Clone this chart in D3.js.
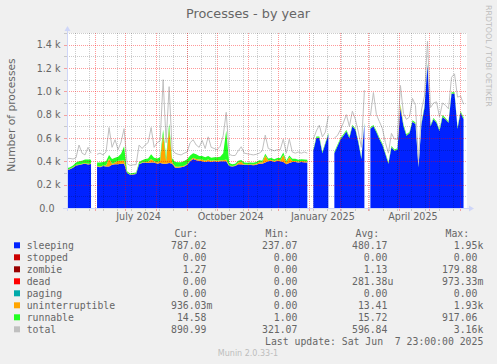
<!DOCTYPE html>
<html>
<head>
<meta charset="utf-8">
<script src="https://cdn.jsdelivr.net/npm/d3@7"></script>
<style>
body { margin: 0; background: #f0f0f0; }
svg { display: block; font-family: "DejaVu Sans", sans-serif; }
.mono { font-family: "DejaVu Sans Mono", monospace; font-size: 9.8px; fill: #666; }
</style>
</head>
<body>
<svg id="chart"></svg>
<script>
// Values: one sample every 3 days from 4 May 2024, null = no data
let startDate = new Date(2024, 4, 4, 12)
let endDate = new Date(2025, 5, 7, 23)
let stepDays = 3

let sleeping = [
	326,332,345,365,368,375,380,372,378,null,
	355,350,360,355,355,370,375,375,380,380,
	300,285,288,292,375,385,390,385,390,390,
	380,385,380,380,385,380,345,345,350,355,
	370,400,420,410,405,400,395,400,395,400,
	395,400,400,400,360,355,360,375,370,370,
	368,370,365,370,380,380,390,400,405,395,
	405,400,395,375,385,395,395,390,395,390,
	390,null,490,600,600,470,550,630,null,470,
	527,585,620,656,600,700,670,560,420,720,
	null,680,700,650,590,540,460,380,520,490,
	500,860,700,620,640,740,720,350,720,860,
	1230,700,760,730,660,780,760,730,980,980,
	680,820,760
]

let zombie = [
	0,0,0,0,0,0,0,0,0,null,
	0,0,0,0,0,0,0,0,0,0,
	0,0,0,0,0,0,0,0,0,0,
	0,0,0,0,0,0,0,0,0,0,
	0,0,0,0,0,0,0,0,0,0,
	0,0,0,0,0,0,0,0,6,0,
	0,0,3,0,0,0,0,0,0,0,
	0,0,0,0,0,0,0,0,0,3,
	0,null,0,0,0,0,0,0,null,0,
	0,0,0,0,0,0,0,0,0,0,
	null,0,0,0,0,0,0,0,0,0,
	0,0,0,0,0,0,0,0,0,0,
	0,0,0,0,0,0,0,0,0,0,
	0,0,0
]

let uninterruptible = [
	5,5,5,5,5,5,5,8,5,null,
	5,5,5,10,70,10,15,30,25,30,
	5,3,3,3,5,5,5,10,30,10,
	10,20,250,20,300,15,10,8,8,8,
	8,10,10,10,10,15,10,15,10,10,
	10,10,10,15,5,5,5,15,20,5,
	5,5,5,10,15,10,60,10,8,8,
	8,8,60,15,50,8,8,8,8,8,
	8,null,2,2,2,2,2,2,null,2,
	2,2,2,2,2,2,2,2,2,2,
	null,2,2,2,2,2,2,2,2,2,
	2,20,2,2,2,2,2,2,2,2,
	2,2,2,2,2,2,2,2,2,2,
	2,2,2
]

let runnable = [
	10,12,15,20,28,25,30,35,30,null,
	30,35,30,35,30,40,40,35,60,120,
	10,8,8,10,15,20,25,30,40,30,
	35,30,40,35,40,30,40,40,35,40,
	40,40,40,40,30,30,30,30,25,25,
	30,30,60,250,20,15,15,15,15,15,
	15,15,15,15,15,15,15,15,15,15,
	15,20,20,15,15,20,20,15,15,15,
	15,null,10,10,10,10,10,10,null,10,
	10,10,10,10,10,10,10,10,10,10,
	null,10,10,10,10,10,10,10,10,10,
	10,10,15,10,10,10,10,5,10,10,
	10,10,10,10,10,15,10,10,10,10,
	10,10,15
]

let total = [
	425,425,420,430,540,470,455,520,470,null,
	460,470,455,480,690,520,585,500,565,680,
	380,365,370,372,540,510,540,560,690,520,
	560,575,1100,560,1040,500,470,460,455,470,
	480,560,585,540,520,580,510,610,520,510,
	500,530,620,820,460,450,450,490,525,470,
	465,460,455,460,470,490,625,510,500,490,
	500,500,590,470,590,480,470,480,470,480,
	470,null,590,660,710,610,650,790,null,600,
	620,670,730,800,700,830,760,650,520,1010,
	null,790,990,800,740,680,560,470,640,590,
	590,1050,810,760,780,940,880,400,840,960,
	1430,860,900,910,780,900,880,850,1120,1150,
	950,960,890
]

let yTicks = [0, 200, 400, 600, 800, 1000, 1200, 1400]
let yTickLabels = ["0.0", "0.2 k", "0.4 k", "0.6 k", "0.8 k", "1.0 k", "1.2 k", "1.4 k"]
let xLabels = ["July 2024", "October 2024", "January 2025", "April 2025"]
let xLabelDates = [new Date(2024, 6, 15), new Date(2024, 9, 15), new Date(2025, 0, 15), new Date(2025, 3, 15)]

let legendNames = ["sleeping", "stopped", "zombie", "dead", "paging", "uninterruptible", "runnable", "total"]
let curValues = ["787.02", "0.00", "1.27", "0.00", "0.00", "936.03m", "14.58", "890.99"]
let minValues = ["237.07", "0.00", "0.00", "0.00", "0.00", "0.00", "1.00", "321.07"]
let avgValues = ["480.17", "0.00", "1.13", "281.38u", "0.00", "13.41", "15.72", "596.84"]
let maxValues = ["1.95k", "0.00", "179.88", "973.33m", "0.00", "1.93k", "917.06", "3.16k"]

// styles
let colors = {
	sleeping: "#0022ff", stopped: "#cc0000", zombie: "#990000", dead: "#ff0000",
	paging: "#00aaaa", uninterruptible: "#ffa500", runnable: "#22ff22", total: "#c0c0c0"
}
let width = 497
let height = 364
let plot = { left: 67, right: 467, top: 33, bottom: 208 }
let fontColor = "#666"
let axisColor = "#cfd6f8"

let svg = d3.select("#chart").attr("width", width).attr("height", height)

svg.append("rect").attr("width", width).attr("height", height).attr("fill", "#f0f0f0")
svg.append("rect")
	.attr("x", plot.left).attr("y", plot.top)
	.attr("width", plot.right - plot.left).attr("height", plot.bottom - plot.top)
	.attr("fill", "#fff")

//Scales
let xScale = d3.scaleTime().domain([startDate, endDate]).range([plot.left, plot.right])
let yScale = d3.scaleLinear().domain([0, 1500]).range([plot.bottom, plot.top])

let rows = sleeping.map((s, i) => ({
	date: d3.timeDay.offset(startDate, stepDays * i),
	sleeping: s,
	zombie: zombie[i],
	uninterruptible: uninterruptible[i],
	runnable: runnable[i],
	total: total[i]
}))

let keys = ["sleeping", "zombie", "uninterruptible", "runnable"]
let layers = d3.stack().keys(keys).value((d, k) => d[k] == null ? 0 : d[k])(rows)

let area = d3.area()
	.defined(d => d.data.sleeping != null)
	.x(d => xScale(d.data.date))
	.y0(d => yScale(d[0]))
	.y1(d => yScale(d[1]))

svg.append("clipPath").attr("id", "clip")
	.append("rect")
	.attr("x", plot.left).attr("y", plot.top)
	.attr("width", plot.right - plot.left).attr("height", plot.bottom - plot.top)

let g = svg.append("g").attr("clip-path", "url(#clip)")

g.selectAll("path.layer")
	.data(layers)
	.enter()
	.append("path")
	.attr("class", "layer")
	.attr("fill", d => colors[d.key])
	.attr("d", area)

let totalLine = d3.line()
	.defined(d => d.total != null)
	.x(d => xScale(d.date))
	.y(d => yScale(d.total))

g.append("path")
	.datum(rows)
	.attr("fill", "none")
	.attr("stroke", colors.total)
	.attr("stroke-width", 1)
	.attr("d", totalLine)

//Grid, drawn over the areas like rrdtool does
let minorColor = "rgba(0,0,0,0.2)"
let majorColor = "rgba(255,0,0,0.4)"

let minorY = d3.range(100, 1501, 100).filter(v => v % 200 != 0)
let majorY = yTicks.filter(v => v > 0)
let minorX = d3.timeDay.range(new Date(2024, 4, 12), endDate, 14)
let majorX = d3.timeMonth.range(new Date(2024, 5, 1), endDate)

let grid = svg.append("g").attr("shape-rendering", "crispEdges")

grid.selectAll("line.hminor").data(minorY).enter().append("line")
	.attr("x1", plot.left).attr("x2", plot.right)
	.attr("y1", d => Math.round(yScale(d)) + 0.5).attr("y2", d => Math.round(yScale(d)) + 0.5)
	.attr("stroke", minorColor).attr("stroke-dasharray", "1,1")

grid.selectAll("line.vminor").data(minorX).enter().append("line")
	.attr("x1", d => Math.round(xScale(d)) + 0.5).attr("x2", d => Math.round(xScale(d)) + 0.5)
	.attr("y1", plot.top).attr("y2", plot.bottom)
	.attr("stroke", minorColor).attr("stroke-dasharray", "1,1")

grid.selectAll("line.hmajor").data(majorY).enter().append("line")
	.attr("x1", plot.left).attr("x2", plot.right)
	.attr("y1", d => Math.round(yScale(d)) + 0.5).attr("y2", d => Math.round(yScale(d)) + 0.5)
	.attr("stroke", majorColor).attr("stroke-dasharray", "1,1")

grid.selectAll("line.vmajor").data(majorX).enter().append("line")
	.attr("x1", d => Math.round(xScale(d)) + 0.5).attr("x2", d => Math.round(xScale(d)) + 0.5)
	.attr("y1", plot.top).attr("y2", plot.bottom)
	.attr("stroke", majorColor).attr("stroke-dasharray", "1,1")

//small ticks on the axes
grid.selectAll("line.xtick").data(minorX.concat(majorX)).enter().append("line")
	.attr("x1", d => Math.round(xScale(d)) + 0.5).attr("x2", d => Math.round(xScale(d)) + 0.5)
	.attr("y1", plot.bottom).attr("y2", plot.bottom + 3)
	.attr("stroke", (d, i) => i < minorX.length ? "#c8c8c8" : "#f4a0a0")

grid.selectAll("line.ytick").data(minorY.concat(majorY)).enter().append("line")
	.attr("x1", plot.left - 3).attr("x2", plot.left)
	.attr("y1", d => Math.round(yScale(d)) + 0.5).attr("y2", d => Math.round(yScale(d)) + 0.5)
	.attr("stroke", (d, i) => i < minorY.length ? "#c8c8c8" : "#f4a0a0")

//Axis lines with arrows
let axis = svg.append("g")
axis.append("line")
	.attr("x1", plot.left - 4).attr("x2", plot.right + 4)
	.attr("y1", plot.bottom + 0.5).attr("y2", plot.bottom + 0.5)
	.attr("stroke", axisColor)
axis.append("line")
	.attr("x1", plot.left + 0.5).attr("x2", plot.left + 0.5)
	.attr("y1", plot.bottom + 3).attr("y2", plot.top - 4)
	.attr("stroke", axisColor)
axis.append("path")
	.attr("d", `M${plot.right + 2},${plot.bottom - 2.5}L${plot.right + 7},${plot.bottom + 0.5}L${plot.right + 2},${plot.bottom + 3.5}Z`)
	.attr("fill", axisColor)
axis.append("path")
	.attr("d", `M${plot.left - 2.5},${plot.top - 2}L${plot.left + 0.5},${plot.top - 7}L${plot.left + 3.5},${plot.top - 2}Z`)
	.attr("fill", axisColor)

//Tick labels
svg.selectAll("text.ylab").data(yTicks).enter().append("text")
	.attr("x", (d, i) => i == 0 ? 54.5 : 60.5)
	.attr("y", d => yScale(d) + 3.5)
	.attr("text-anchor", "end")
	.attr("font-size", "9.6px")
	.attr("fill", fontColor)
	.text((d, i) => yTickLabels[i])

svg.selectAll("text.xlab").data(xLabels).enter().append("text")
	.attr("x", (d, i) => xScale(xLabelDates[i]))
	.attr("y", 219.7)
	.attr("text-anchor", "middle")
	.attr("font-size", "9.6px")
	.attr("fill", fontColor)
	.text(d => d)

//Title and axis label
svg.append("text")
	.attr("x", 248).attr("y", 17.5)
	.attr("text-anchor", "middle")
	.attr("font-size", "12.8px")
	.attr("fill", fontColor)
	.text("Processes - by year")

svg.append("text")
	.attr("transform", "translate(14.5,115) rotate(-90)")
	.attr("text-anchor", "middle")
	.attr("font-size", "10.7px")
	.attr("fill", fontColor)
	.text("Number of processes")

svg.append("text")
	.attr("transform", "translate(486,5) rotate(90)")
	.attr("font-size", "7.9px")
	.attr("fill", "#bdbdbd")
	.text("RRDTOOL / TOBI OETIKER")

svg.append("text")
	.attr("x", 248).attr("y", 355.8)
	.attr("text-anchor", "middle")
	.attr("font-size", "8px")
	.attr("fill", "#bdbdbd")
	.text("Munin 2.0.33-1")

//Legend
let charW = 9.8 * 0.602
let colRight = [212.3, 303.3, 393.3, 483.3]
let headers = ["Cur:", "Min:", "Avg:", "Max:"]
let columns = [curValues, minValues, avgValues, maxValues]

headers.forEach((h, c) => {
	svg.append("text").attr("class", "mono")
		.attr("x", colRight[c] - 2.4 * charW).attr("y", 237)
		.attr("text-anchor", "end")
		.text(h)
})

let legend = svg.selectAll("g.legend")
	.data(legendNames)
	.enter()
	.append("g")
	.attr("transform", (d, i) => `translate(0,${249 + i * 12})`)

legend.append("rect")
	.attr("x", 14).attr("y", -6.7)
	.attr("width", 6).attr("height", 6)
	.attr("fill", d => colors[d])

legend.append("text").attr("class", "mono")
	.attr("x", 26.7).attr("y", 0)
	.text(d => d)

columns.forEach((vals, c) => {
	legend.append("text").attr("class", "mono")
		.attr("x", colRight[c] - charW).attr("y", 0)
		.attr("text-anchor", "end")
		.text((d, i) => /[a-z]$/.test(vals[i]) ? vals[i].slice(0, -1) : vals[i])
	legend.append("text").attr("class", "mono")
		.attr("x", colRight[c] - charW).attr("y", 0)
		.text((d, i) => /[a-z]$/.test(vals[i]) ? vals[i].slice(-1) : "")
})

svg.append("text").attr("class", "mono")
	.attr("x", 483.3).attr("y", 345.3)
	.attr("text-anchor", "end")
	.text("Last update: Sat Jun\u00a0 7 23:00:00 2025")
</script>
</body>
</html>
